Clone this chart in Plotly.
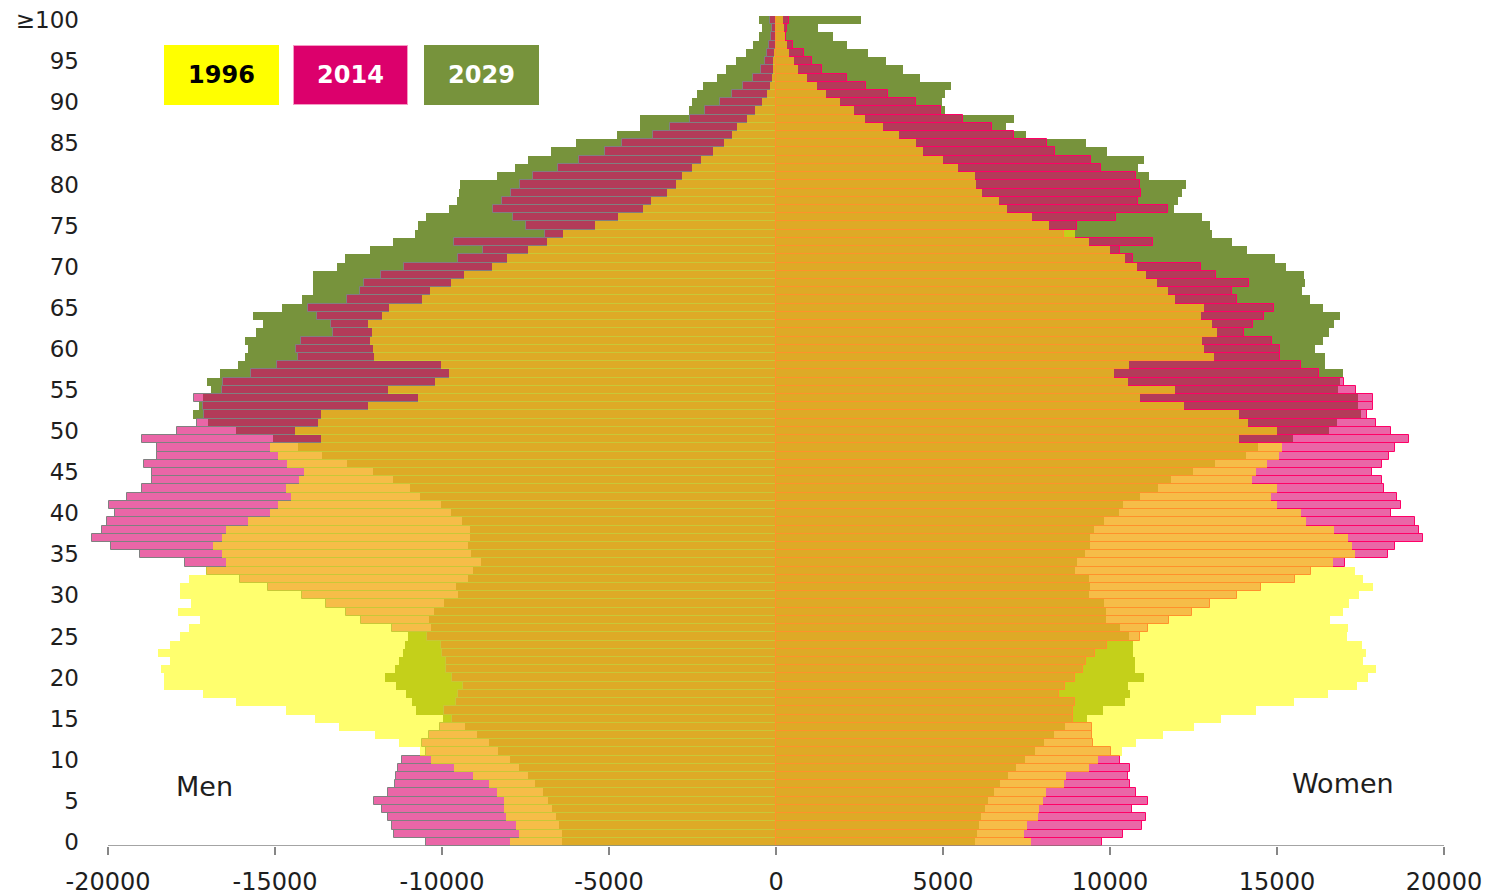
# plot.py — population pyramid, 1996 / 2014 / 2029 overlaid

import plotly.graph_objects as go


# ─── Data ─────────────────────────────────────────────────────────────────────

AGES = list(range(101))

Y_TICKVALS = [0, 5, 10, 15, 20, 25, 30, 35, 40, 45, 50,
              55, 60, 65, 70, 75, 80, 85, 90, 95, 100]
Y_TICKTEXT = ["0", "5", "10", "15", "20", "25", "30", "35", "40", "45", "50",
              "55", "60", "65", "70", "75", "80", "85", "90", "95", "≥100"]

X_TICKVALS = [-20000, -15000, -10000, -5000, 0, 5000, 10000, 15000, 20000]
X_TICKTEXT = ["-20000", "-15000", "-10000", "-5000", "0",
              "5000", "10000", "15000", "20000"]

MEN_1996 = [7960, 7690, 7780, 8080, 8130, 8130, 8360, 8600, 9060, 9630,
            10330, 10650, 11280, 12000, 13090, 13790, 14680, 16180, 17160, 18310,
            18310, 18420, 18140, 18500, 18140, 17850, 17570, 17250, 17910, 17510,
            17850, 17850, 17570, 17060, 16460, 16580, 16870, 16580, 16460, 15800,
            15140, 14910, 14520, 14680, 14290, 14120, 14630, 14910, 15160, 13610,
            14410, 13720, 13610, 12220, 10710, 11630, 10200, 9800, 10020, 12050,
            12060, 12160, 12110, 12210, 11810, 11590, 10590, 10360, 9730, 9330,
            8510, 8060, 7440, 6850, 6390, 5420, 4720, 3970, 3740, 3270,
            2990, 2820, 2530, 2250, 1900, 1560, 1330, 1160, 880, 620,
            420, 260, 180, 130, 100, 80, 60, 45, 35, 25, 30]

MEN_2014 = [10480, 11450, 11500, 11630, 11800, 12030, 11630, 11400, 11380, 11330,
            11200, 10480, 10600, 10400, 10060, 9700, 9930, 9580, 9530, 9360,
            9700, 9880, 9880, 10000, 10030, 10440, 11500, 12430, 12890, 13470,
            14200, 15210, 16050, 17030, 17710, 19030, 19900, 20470, 20190, 20030,
            19790, 19970, 19440, 18980, 18690, 18690, 18920, 18530, 18530, 18980,
            17940, 17350, 17120, 17170, 17440, 16600, 16550, 15730, 14930, 14300,
            14360, 14220, 13260, 13310, 13740, 14010, 12850, 12450, 12330, 11830,
            11130, 9510, 8760, 9630, 6920, 7500, 7890, 8480, 8190, 7940,
            7660, 7270, 6520, 5890, 5120, 4620, 3690, 3170, 2580, 2130,
            1680, 1330, 980, 700, 460, 330, 260, 200, 150, 130, 180]

MEN_2029 = [6420, 6420, 6490, 6590, 6710, 6840, 6990, 7210, 7440, 7690,
            7960, 8310, 8600, 8950, 9300, 9980, 10780, 10900, 11080, 11380,
            11700, 11400, 11300, 11180, 11100, 11030, 10330, 10380, 10230, 9930,
            9510, 9570, 9230, 9070, 8820, 9120, 9230, 9170, 9170, 9390,
            9740, 10030, 10670, 10960, 11470, 12060, 12860, 13590, 14300, 15050,
            16180, 17000, 17460, 17290, 17170, 16920, 17030, 16660, 16120, 15900,
            15800, 15900, 15560, 15370, 15660, 14790, 14200, 13870, 13870, 13870,
            13130, 12900, 12160, 11460, 10810, 10710, 10480, 9800, 9560, 9500,
            9460, 8340, 7830, 7440, 6750, 5990, 4770, 4070, 4070, 2620,
            2530, 2360, 2180, 1780, 1500, 1200, 910, 680, 510, 430, 510]

WOMEN_1996 = [7630, 7410, 7520, 7830, 7860, 8000, 8090, 8620, 8680, 9360,
              9650, 10360, 10790, 11600, 12510, 13310, 14380, 15520, 16540, 17390,
              17730, 17960, 17560, 17670, 17530, 17110, 17140, 16600, 16990, 17160,
              17450, 17880, 17580, 17340, 16680, 17350, 17240, 17120, 16710, 15870,
              15720, 15000, 14830, 15000, 14250, 14370, 14710, 15050, 15150, 13860,
              15000, 14140, 13860, 12230, 10910, 11950, 10550, 10110, 10570, 13100,
              12810, 12760, 13200, 13050, 12710, 12810, 11950, 11750, 11420, 11080,
              10810, 10450, 9990, 9360, 8940, 8180, 7670, 6910, 6690, 6170,
              6000, 5950, 5460, 5010, 4390, 4190, 3690, 3210, 2670, 2320,
              1920, 1500, 1220, 920, 670, 540, 400, 320, 270, 240, 220]

WOMEN_2014 = [9750, 10380, 10950, 11070, 10660, 11130, 10780, 10610, 10550, 10610,
              10300, 10020, 9500, 9450, 9450, 8880, 8880, 8940, 8480, 8650,
              8940, 9190, 9280, 9560, 9900, 10900, 11130, 11770, 12450, 12990,
              13790, 14520, 15540, 16020, 17040, 18310, 18520, 19360, 19240, 19130,
              18420, 18720, 18600, 18190, 18140, 17850, 18140, 18360, 18540, 18950,
              18420, 17950, 17680, 17880, 17880, 17370, 17000, 16250, 15710, 15080,
              15080, 14860, 14010, 14270, 14620, 14900, 13810, 13640, 14170, 13170,
              12720, 10700, 10300, 11290, 8620, 9020, 10170, 11740, 10830, 10930,
              10890, 10780, 9740, 9430, 8340, 8110, 7140, 6480, 5610, 4930,
              4190, 3340, 2690, 2120, 1370, 1070, 850, 500, 300, 320, 400]

WOMEN_2029 = [5960, 6010, 6070, 6140, 6250, 6360, 6530, 6700, 6950, 7180,
              7460, 7750, 8030, 8310, 8650, 9300, 9790, 10450, 10610, 10530,
              11010, 10750, 10750, 10700, 10700, 10580, 10300, 9880, 9880, 9820,
              9360, 9400, 9360, 8940, 9000, 9250, 9400, 9400, 9510, 9820,
              10270, 10400, 10910, 11440, 11820, 12470, 13150, 14060, 14420, 15470,
              16560, 16790, 17500, 17420, 17420, 16840, 16900, 16970, 16430, 16430,
              16150, 16390, 16560, 16710, 16900, 16390, 15980, 15740, 15850, 15800,
              15270, 14930, 14110, 13660, 13050, 12990, 12740, 11930, 12030, 12150,
              12280, 11160, 10830, 11010, 9910, 9280, 7480, 6900, 7140, 5060,
              4960, 5060, 5240, 4310, 3790, 3280, 2760, 2140, 1720, 1270, 2540]


# ─── Style ────────────────────────────────────────────────────────────────────

GREEN       = "#77933C"
PINK        = "#DC006C"
PINK_FILL   = "rgba(220,0,108,0.6)"
YELLOW_FILL = "rgba(255,255,0,0.57)"
AXIS_GREY   = "#868686"
TEXT        = "#1E1E1E"
FONT        = "DejaVu Sans"


def neg(values):
    return [-v for v in values]


fig = go.Figure()

# ── 2029 (opaque, bottom) ────────────────────────────────────────────────────
for xs in (neg(MEN_2029), WOMEN_2029):
    fig.add_trace(go.Bar(
        y=AGES, x=xs, orientation="h",
        marker=dict(color=GREEN, line=dict(width=0)),
    ))

# ── 2014 (translucent, outlined) ─────────────────────────────────────────────
for xs, edge in ((neg(MEN_2014), "#808080"), (WOMEN_2014, "#FF0066")):
    fig.add_trace(go.Bar(
        y=AGES, x=xs, orientation="h",
        marker=dict(color=PINK_FILL, line=dict(color=edge, width=1)),
    ))

# ── 1996 (translucent, top) ──────────────────────────────────────────────────
for xs in (neg(MEN_1996), WOMEN_1996):
    fig.add_trace(go.Bar(
        y=AGES, x=xs, orientation="h",
        marker=dict(color=YELLOW_FILL, line=dict(width=0)),
    ))

# ── x axis baseline (drawn by hand so long bars are not clipped) ─────────────
fig.add_shape(type="line", xref="x", yref="y",
              x0=-20000, x1=20000, y0=-0.5, y1=-0.5,
              line=dict(color=AXIS_GREY, width=1.5))

# ── Year boxes & sex labels ──────────────────────────────────────────────────
boxes = [
    ("1996", -16614, "#FFFF00", "#000000", "#FFFF00"),
    ("2014", -12739, PINK,      "#FFFFFF", "#F59AC4"),
    ("2029", -8817,  GREEN,     "#FFFFFF", GREEN),
]
for label, x, bg, fg, border in boxes:
    fig.add_annotation(
        x=x, y=93.3, xref="x", yref="y", showarrow=False,
        text=f"<b>{label}</b>", width=113, height=58,
        bgcolor=bg, bordercolor=border, borderwidth=1, borderpad=0,
        font=dict(family=FONT, size=24, color=fg),
    )

fig.add_annotation(x=-17126, y=6.8, xref="x", yref="y", showarrow=False,
                   text="Men", font=dict(family=FONT, size=27, color=TEXT))
fig.add_annotation(x=16976, y=7.05, xref="x", yref="y", showarrow=False,
                   text="Women", font=dict(family=FONT, size=27, color=TEXT))

# ── Layout ───────────────────────────────────────────────────────────────────
# the page body adds an 8px margin, so the figure is a little smaller than
# the window and the plot box is placed to land on the reference pixels
fig.update_layout(
    width=1485, height=888,
    paper_bgcolor="white", plot_bgcolor="white",
    barmode="overlay", bargap=0,
    showlegend=False,
    margin=dict(l=80, r=49, t=8, b=50),
    font=dict(family=FONT, size=23, color=TEXT),
    xaxis=dict(
        range=[-20600, 20000],
        tickvals=X_TICKVALS, ticktext=X_TICKTEXT,
        ticks="outside", ticklen=8, tickwidth=1.5, tickcolor=AXIS_GREY,
        showgrid=False, zeroline=False, showline=False,
        tickfont=dict(family=FONT, size=24, color=TEXT),
        ticklabelstandoff=6, automargin=False, ticklabeloverflow="allow",
    ),
    yaxis=dict(
        range=[-0.5, 100.5],
        tickvals=Y_TICKVALS, ticktext=Y_TICKTEXT,
        ticks="", showgrid=False, zeroline=False, showline=False,
        tickfont=dict(family=FONT, size=23, color=TEXT),
        ticklabelstandoff=8, automargin=False, ticklabeloverflow="allow",
    ),
)

fig.write_html("out.html")
